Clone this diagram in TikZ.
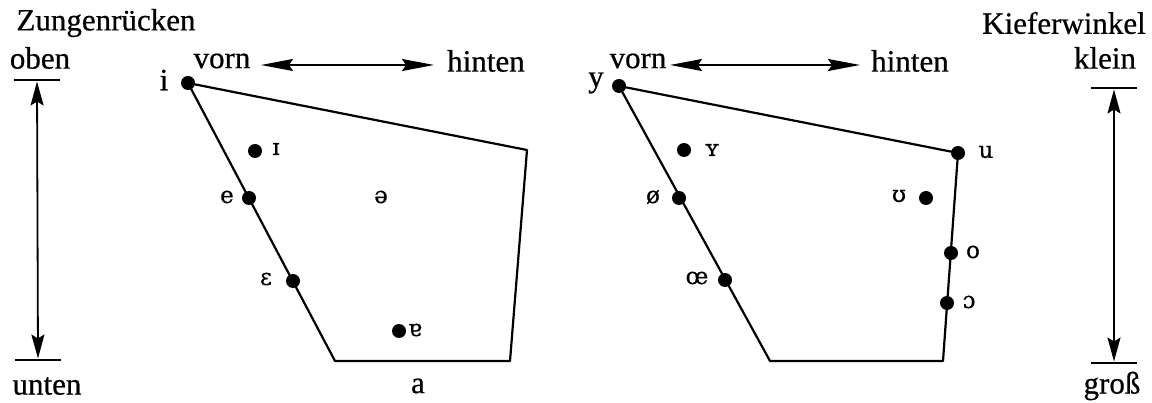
\documentclass[tikz,border=0pt]{standalone}
\usepackage{fontspec}
\setmainfont{Liberation Serif}[FakeBold=0.6]
\newfontfamily\ipafont{DejaVu Serif}[FakeBold=0.6]
\usetikzlibrary{arrows.meta}
\begin{document}
\begin{tikzpicture}[x=1pt,y=-1pt,
  txt/.style={font=\fontsize{31}{35}\selectfont, inner sep=0pt},
  ipa/.style={font=\ipafont\fontsize{23}{27}\selectfont, inner sep=0pt},
  vdot/.style={circle, fill=black, inner sep=0pt, minimum size=14pt},
  edge/.style={line width=2.2pt, line join=round},
  bar/.style={rectangle, fill=black, inner sep=0pt, minimum width=46pt, minimum height=2.6pt},
  arr/.style={line width=1.8pt, {Stealth[length=32pt,width=12pt,inset=4pt]}-{Stealth[length=32pt,width=12pt,inset=4pt]}},
  varr/.style={line width=1.8pt, {Stealth[length=24pt,width=13pt,inset=4pt]}-{Stealth[length=24pt,width=13pt,inset=4pt]}}
]
\useasboundingbox (0,0) rectangle (1152,403);

% ---------- left scale ----------
\node[txt] (zr) at (106,23) {Zungenrücken};
\node[txt] (oben) at (40,58) {oben};
\node[bar] (obenbar) at (37,80) {};
\node[bar] (untenbar) at (38,360) {};
\draw[varr] (obenbar.south) -- (untenbar.north);
\node[txt] (unten) at (47,386) {unten};

% ---------- left chart ----------
\node[txt] (vorn1) at (222,61) {vorn};
\node[txt] (hinten1) at (486,61) {hinten};
\coordinate (a1l) at (261,65);
\coordinate (a1r) at (434,65);
\draw[arr] (a1l) -- (a1r);

\coordinate (L1) at (188,83);
\coordinate (L2) at (527,150);
\coordinate (L3) at (510,361);
\coordinate (L4) at (335,361);
\draw[edge] (L1) -- (L2) -- (L3) -- (L4) -- cycle;

\node[vdot] (di) at (188,83) {};
\node[txt] (li) at (164,80) {i};
\node[vdot] (dI) at (255,151) {};
\node[ipa] (lI) at (276,149) {ɪ};
\node[vdot] (de) at (249,198) {};
\node[ipa] (le) at (227,197) {e};
\node[ipa] (lschwa) at (381,197) {ə};
\node[vdot] (deps) at (293,281) {};
\node[ipa] (leps) at (266,279) {ɛ};
\node[vdot] (dtur) at (399,331) {};
\node[ipa] (ltur) at (415,330) {ɐ};
\node[txt] (la) at (418,386) {a};

% ---------- right chart ----------
\node[txt] (vorn2) at (638,61) {vorn};
\node[txt] (hinten2) at (910,61) {hinten};
\coordinate (a2l) at (670,65);
\coordinate (a2r) at (860,65);
\draw[arr] (a2l) -- (a2r);

\coordinate (R1) at (619,86);
\coordinate (R2) at (958,153);
\coordinate (R3) at (943,361);
\coordinate (R4) at (770,361);
\draw[edge] (R1) -- (R2) -- (R3) -- (R4) -- cycle;

\node[vdot] (dy) at (619,86) {};
\node[txt] (ly) at (596,83) {y};
\node[vdot] (dY) at (684,150) {};
\node[ipa] (lY) at (712,150) {ʏ};
\node[vdot] (doe) at (679,198) {};
\node[ipa] (loe) at (653,197) {ø};
\node[vdot] (doee) at (725,280) {};
\node[ipa] (loee) at (697,278) {œ};
\node[vdot] (du) at (958,153) {};
\node[ipa] (lu) at (986,152) {u};
\node[vdot] (dU) at (926,198) {};
\node[ipa] (lU) at (899,196) {ʊ};
\node[vdot] (do) at (951,253) {};
\node[ipa] (lo) at (973,252) {o};
\node[vdot] (dO) at (947,303) {};
\node[ipa] (lO) at (969,302) {ɔ};

% ---------- right scale ----------
\node[txt] (kw) at (1064,23) {Kieferwinkel};
\node[txt] (klein) at (1105,58) {klein};
\node[bar] (kleinbar) at (1114,88) {};
\node[bar] (grossbar) at (1114,363) {};
\draw[varr] (kleinbar.south) -- (grossbar.north);
\node[txt] (gross) at (1112,386) {groß};
\end{tikzpicture}
\end{document}
